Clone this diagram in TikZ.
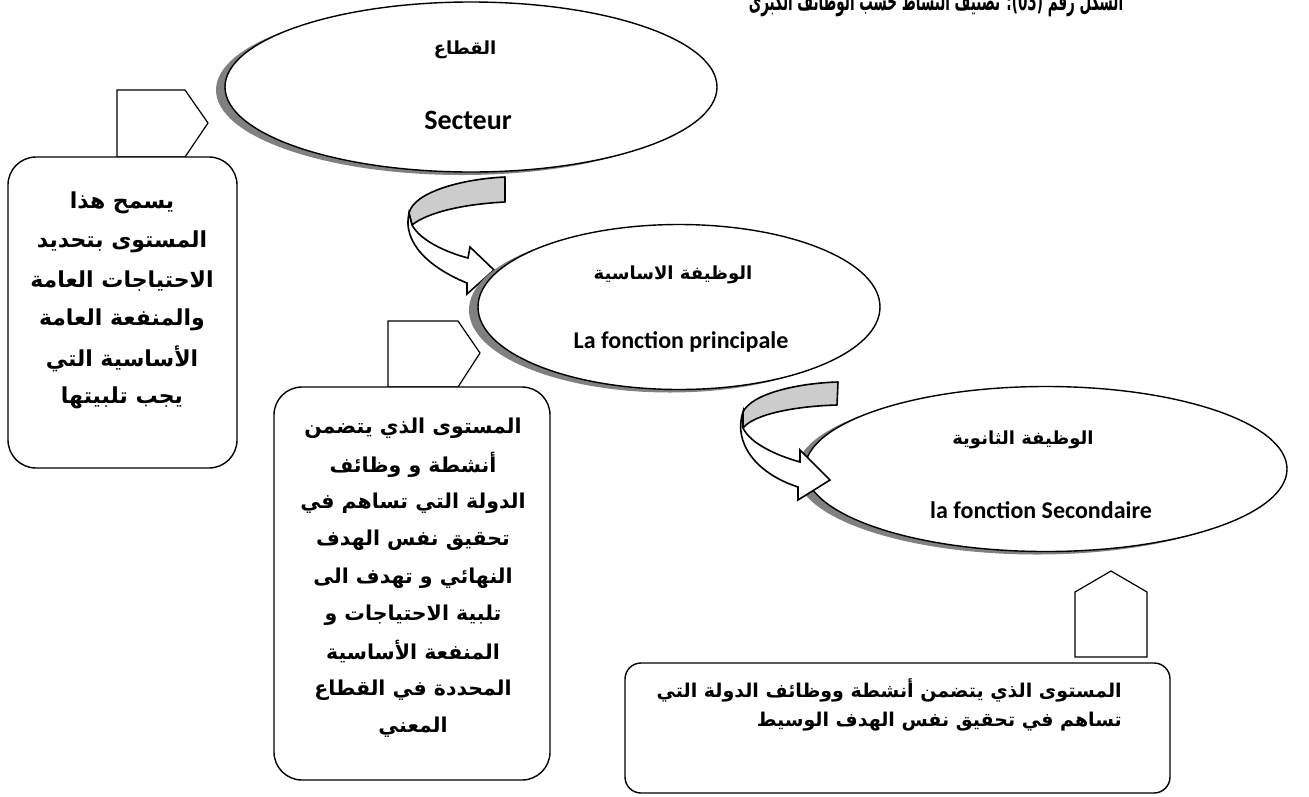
\documentclass[tikz,border=0pt]{standalone}
\usepackage{fontspec}
\usepackage{graphicx}
\usetikzlibrary{shapes.geometric,shadows}
\TeXXeTstate=1
\newfontfamily\arfont[Script=Arabic]{DejaVu Sans}
\newfontfamily\titlefont[Script=Arabic,FakeStretch=0.52]{DejaVu Sans}
\newfontfamily\latfont{Carlito}
\newcommand{\AR}[1]{{\arfont\bfseries\beginR #1\endR}}
\begin{document}
\begin{tikzpicture}[x=1pt,y=-1pt,
  ell/.style={ellipse, draw=black, line width=1.4pt, fill=white, inner sep=0pt,
     drop shadow={shadow xshift=-9pt, shadow yshift=-3pt, fill=black!50, opacity=1}},
  box/.style={rectangle, draw=black, line width=1.4pt, fill=white, rounded corners=28pt, inner sep=0pt},
  plate/.style={draw=black, line width=1.2pt, fill=white, line join=miter},
  ribbonback/.style={draw=black, line width=1.6pt, fill=black!20, line join=round},
  ribbonfront/.style={draw=black, line width=1.6pt, fill=white, line join=miter},
  artxta/.style={font=\fontsize{22}{26}\selectfont, inner sep=0pt},
  artxt/.style={font=\fontsize{20.5}{24}\selectfont, inner sep=0pt},
  artxtb/.style={font=\fontsize{19}{23}\selectfont, inner sep=0pt},
  elltxt/.style={font=\fontsize{18}{22}\selectfont, inner sep=0pt},
  lattxt/.style={font=\latfont\bfseries\fontsize{24}{29}\selectfont, inner sep=0pt},
]
\useasboundingbox (0,0) rectangle (1309,796);
\clip (0,0) rectangle (1309,796);

% title (cut at the top, as in the source)
\node[anchor=base, font=\fontsize{26}{30}\selectfont, inner sep=0pt] (title) at (936,10)
  {{\titlefont\bfseries\beginR الشكل رقم (\beginL 03\endL): تصنيف النشاط حسب الوظائف الكبرى\endR}};

% pentagon pointers
\draw[plate] (117,90) -- (185,90) -- (208,123) -- (185,157) -- (117,157) -- cycle;
\draw[plate] (388,321) -- (458,321) -- (480,353) -- (458,387) -- (388,387) -- cycle;
\draw[plate] (1075,657) -- (1075,592) -- (1111,571) -- (1147,592) -- (1147,657) -- cycle;

% boxes
\node[box, minimum width=229pt, minimum height=311pt] (b1) at (122.5,312.5) {};
\node[box, minimum width=276pt, minimum height=393pt] (b2) at (412,583.5) {};
\node[box, minimum width=545pt, minimum height=130pt, rounded corners=16pt] (b3) at (897.5,728) {};

\node[artxta] (b1l1) at (122,203) {\AR{يسمح هذا}};
\node[artxta] (b1l2) at (122,242) {\AR{المستوى بتحديد}};
\node[artxta] (b1l3) at (122,281) {\AR{الاحتياجات العامة}};
\node[artxta] (b1l4) at (122,320) {\AR{والمنفعة العامة}};
\node[artxta] (b1l5) at (122,359) {\AR{الأساسية التي}};
\node[artxta] (b1l6) at (122,398) {\AR{يجب تلبيتها}};

\node[artxt] (b2l1) at (413,428) {\AR{المستوى الذي يتضمن}};
\node[artxt] (b2l2) at (413,465) {\AR{أنشطة و وظائف}};
\node[artxt] (b2l3) at (413,503) {\AR{الدولة التي تساهم في}};
\node[artxt] (b2l4) at (413,540) {\AR{تحقيق نفس الهدف}};
\node[artxt] (b2l5) at (413,578) {\AR{النهائي و تهدف الى}};
\node[artxt] (b2l6) at (413,615) {\AR{تلبية الاحتياجات و}};
\node[artxt] (b2l7) at (413,652) {\AR{المنفعة الأساسية}};
\node[artxt] (b2l8) at (413,690) {\AR{المحددة في القطاع}};
\node[artxt] (b2l9) at (413,727) {\AR{المعني}};

\node[artxtb, anchor=east] (b3l1) at (1122,690) {\AR{المستوى الذي يتضمن أنشطة ووظائف الدولة التي}};
\node[artxtb, anchor=east] (b3l2) at (1122,722) {\AR{تساهم في تحقيق نفس الهدف الوسيط}};

% ellipse 1
\node[ell, minimum width=492pt, minimum height=170pt] (e1) at (471,87) {};
\node[elltxt] (e1ar) at (465,50) {\AR{القطاع}};
\node[lattxt, font=\latfont\bfseries\fontsize{28}{32}\selectfont] (e1fr) at (468,120) {Secteur};

% curved arrow 1
\draw[ribbonback] (505,177) .. controls (462,179) and (414,192) .. (409,213) -- (412,225)
   .. controls (428,212) and (465,204) .. (505,202) -- cycle;
\draw[ribbonfront] (409,213) .. controls (402,243) and (430,268) .. (467,283) -- (467,294)
   -- (494,270) -- (470,247) -- (468,258) .. controls (445,252) and (420,240) .. (412,225) -- cycle;

% ellipse 2
\node[ell, minimum width=402pt, minimum height=165pt] (e2) at (679,307) {};
\node[elltxt] (e2ar) at (673,275) {\AR{الوظيفة الاساسية}};
\node[lattxt] (e2fr) at (681,342) {La fonction principale};

% ellipse 3
\node[ell, minimum width=482pt, minimum height=165pt] (e3) at (1046,469) {};
\node[elltxt] (e3ar) at (1023,440) {\AR{الوظيفة الثانوية}};
\node[lattxt] (e3fr) at (1041,510) {la fonction Secondaire};

% curved arrow 2
\draw[ribbonback] (838,382) .. controls (800,383) and (752,393) .. (743,412) -- (743,428)
   .. controls (755,413) and (800,406) .. (837,405) -- cycle;
\draw[ribbonfront] (743,412) .. controls (733,442) and (755,473) .. (798,487) -- (798,500)
   -- (830,480) -- (800,450) -- (800,462) .. controls (775,455) and (750,443) .. (743,428) -- cycle;
\end{tikzpicture}
\end{document}
